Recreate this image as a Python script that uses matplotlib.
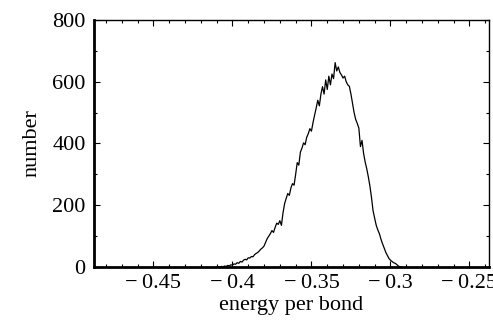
import matplotlib
matplotlib.use("Agg")
import matplotlib.pyplot as plt
from matplotlib.ticker import MultipleLocator, FuncFormatter

plt.rcParams['font.family'] = ['Liberation Serif', 'DejaVu Serif']

# histogram of energy per bond (bin step 0.001)
energy_start = -0.410
energy_step = 0.001
counts = [
    0, 1, 0, 2, 1, 3, 2, 5, 4, 7,
    6, 10, 9, 14, 12, 18, 16, 22, 25, 23,
    30, 29, 34, 33, 40, 44, 47, 52, 58, 62,
    68, 80, 92, 100, 108, 118, 112, 128, 142, 138,
    150, 135, 175, 205, 222, 238, 232, 256, 270, 265,
    300, 338, 330, 372, 385, 402, 396, 420, 432, 448,
    440, 468, 492, 515, 540, 522, 560, 584, 560, 606,
    575, 618, 590, 625, 610, 662, 635, 648, 630, 622,
    612, 618, 600, 590, 585, 560, 530, 500, 478, 465,
    450, 390, 410, 368, 340, 318, 292, 262, 225, 182,
    158, 135, 120, 108, 90, 75, 62, 48, 38, 28,
    22, 18, 14, 12, 8, 3, 1, 0,
]
energy = [energy_start + i * energy_step for i in range(len(counts))]

xticks = [-0.45, -0.4, -0.35, -0.3, -0.25]
yticks = [0, 200, 400, 600, 800]

fig = plt.figure(figsize=(4.93, 3.22), dpi=100)
ax = fig.add_axes([0.1907, 0.1708, 0.8013, 0.7671])

ax.plot(energy, counts, color='black', linewidth=0.9)

ax.set_xlim(-0.4876, -0.2376)
ax.set_ylim(0, 800)
ax.set_xticks(xticks)
ax.set_yticks(yticks)
ax.xaxis.set_minor_locator(MultipleLocator(0.01))
ax.yaxis.set_minor_locator(MultipleLocator(100))


def fmt(v, pos):
    s = ('%g' % round(v, 3))
    return s.replace('-', '\u2212\u2009')


ax.xaxis.set_major_formatter(FuncFormatter(fmt))

ax.tick_params(which='both', direction='in', top=True, right=True,
               labelsize=16, width=0.8)
ax.tick_params(which='major', length=4)
ax.tick_params(which='minor', length=2.5)
ax.tick_params(axis='y', pad=6)
ax.tick_params(axis='x', pad=5)

ax.spines['left'].set_linewidth(2.0)
ax.spines['bottom'].set_linewidth(2.0)
ax.spines['top'].set_linewidth(1.0)
ax.spines['right'].set_linewidth(1.0)

ax.set_xlabel('energy per bond', fontsize=16, labelpad=2)
ax.set_ylabel('number', fontsize=16, labelpad=8)

fig.savefig('out.png', dpi=100)
